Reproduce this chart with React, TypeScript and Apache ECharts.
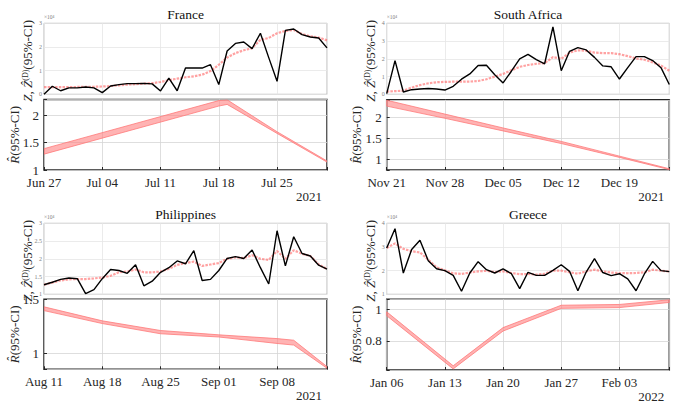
import React, { useEffect, useRef } from 'react';
import * as echarts from 'echarts';

// ---------------- data ----------------
const FRANCE_TICKS = ['Jun 27', 'Jul 04', 'Jul 11', 'Jul 18', 'Jul 25'];
const FRANCE_Z = [0.0, 0.34, 0.15, 0.27, 0.27, 0.31, 0.27, 0.07, 0.35, 0.41, 0.45, 0.45, 0.46, 0.44, 0.14, 0.68, 0.15, 1.11, 1.11, 1.11, 1.25, 0.41, 1.83, 2.15, 2.21, 1.93, 2.58, 1.55, 0.55, 2.70, 2.76, 2.52, 2.42, 2.38, 1.96];
const FRANCE_ZHAT = [0.30, 0.30, 0.30, 0.30, 0.31, 0.31, 0.32, 0.33, 0.35, 0.38, 0.41, 0.43, 0.45, 0.47, 0.52, 0.60, 0.66, 0.72, 0.76, 0.83, 0.98, 1.25, 1.55, 1.74, 1.86, 1.95, 2.30, 2.38, 2.58, 2.68, 2.72, 2.55, 2.45, 2.40, 2.28];
const FRANCE_R_DAYS = [0, 21, 22, 28, 34];
const FRANCE_R_LO = [1.29, 2.17, 2.20, 1.67, 1.145];
const FRANCE_R_HI = [1.39, 2.27, 2.285, 1.70, 1.165];

const SA_TICKS = ['Nov 21', 'Nov 28', 'Dec 05', 'Dec 12', 'Dec 19'];
const SA_Z = [0.04, 1.9, 0.13, 0.26, 0.30, 0.33, 0.30, 0.24, 0.45, 0.85, 1.15, 1.62, 1.64, 1.10, 0.64, 1.30, 2.0, 2.25, 1.95, 1.72, 3.8, 1.33, 2.42, 2.63, 2.5, 2.08, 1.6, 1.55, 0.86, 1.5, 2.12, 2.12, 1.9, 1.5, 0.55];
const SA_ZHAT = [0.15, 0.18, 0.2, 0.38, 0.52, 0.62, 0.68, 0.7, 0.71, 0.71, 0.72, 0.75, 0.85, 1.0, 1.15, 1.35, 1.55, 1.65, 1.72, 1.75, 2.1, 2.0, 2.35, 2.48, 2.45, 2.35, 2.32, 2.32, 2.26, 2.15, 2.02, 1.95, 1.8, 1.62, 1.33];
const SA_R_DAYS = [0, 7, 14, 21, 28, 34];
const SA_R_LO = [2.26, 1.97, 1.67, 1.37, 1.04, 0.75];
const SA_R_HI = [2.40, 2.07, 1.74, 1.42, 1.07, 0.77];

const PH_TICKS = ['Aug 11', 'Aug 18', 'Aug 25', 'Sep 01', 'Sep 08'];
const PH_Z = [1.27, 1.34, 1.42, 1.46, 1.44, 1.02, 1.13, 1.44, 1.70, 1.67, 1.59, 1.83, 1.24, 1.37, 1.62, 1.75, 1.94, 1.86, 2.23, 1.39, 1.42, 1.67, 2.01, 2.06, 2.01, 2.25, 1.75, 1.29, 2.79, 1.80, 2.62, 2.15, 2.08, 1.82, 1.71];
const PH_ZHAT = [1.27, 1.33, 1.39, 1.42, 1.43, 1.43, 1.45, 1.47, 1.52, 1.62, 1.64, 1.7, 1.62, 1.62, 1.64, 1.72, 1.83, 1.88, 1.92, 1.8, 1.84, 1.88, 2.0, 2.04, 2.02, 2.1, 2.0, 1.97, 2.22, 2.0, 2.24, 2.14, 2.08, 1.84, 1.71];
const PH_R_DAYS = [0, 7, 14, 21, 28, 30, 34];
const PH_R_LO = [1.395, 1.275, 1.18, 1.15, 1.09, 1.075, 0.86];
const PH_R_HI = [1.43, 1.30, 1.21, 1.17, 1.135, 1.12, 0.875];

const GR_TICKS = ['Jan 06', 'Jan 13', 'Jan 20', 'Jan 27', 'Feb 03'];
const GR_Z = [2.96, 3.77, 1.90, 2.89, 3.28, 2.42, 2.08, 2.0, 1.80, 1.13, 1.90, 2.38, 2.04, 1.90, 2.07, 1.87, 1.24, 1.93, 1.80, 1.80, 2.01, 2.25, 1.97, 1.15, 1.94, 2.51, 1.92, 1.79, 1.87, 1.65, 1.15, 1.86, 2.39, 2.0, 1.96];
const GR_ZHAT = [2.96, 3.15, 2.92, 2.82, 2.77, 2.46, 2.14, 2.01, 1.89, 1.86, 1.92, 1.97, 1.99, 1.94, 1.97, 1.90, 1.85, 1.86, 1.83, 1.86, 2.0, 2.0, 1.93, 1.87, 1.97, 2.04, 1.97, 1.92, 1.90, 1.89, 1.90, 1.93, 2.04, 2.0, 1.96];
const GR_R_DAYS = [0, 8, 14, 21, 28, 34];
const GR_R_LO = [0.96, 0.62, 0.862, 1.007, 1.012, 1.045];
const GR_R_HI = [0.985, 0.64, 0.884, 1.027, 1.032, 1.062];

const PANELS = [
  { title: 'France', year: '2021', ticks: FRANCE_TICKS, z: FRANCE_Z, zhat: FRANCE_ZHAT, rDays: FRANCE_R_DAYS, rLo: FRANCE_R_LO, rHi: FRANCE_R_HI, zRange: [0, 3], zStep: 1, rRange: [1, 2.29], rStep: 0.5 },
  { title: 'South Africa', year: '2021', ticks: SA_TICKS, z: SA_Z, zhat: SA_ZHAT, rDays: SA_R_DAYS, rLo: SA_R_LO, rHi: SA_R_HI, zRange: [0, 4], zStep: 1, rRange: [0.74, 2.41], rStep: 0.5 },
  { title: 'Philippines', year: '2021', ticks: PH_TICKS, z: PH_Z, zhat: PH_ZHAT, rDays: PH_R_DAYS, rLo: PH_R_LO, rHi: PH_R_HI, zRange: [1, 3], zStep: 0.5, rRange: [0.85, 1.5], rStep: 0.5 },
  { title: 'Greece', year: '2022', ticks: GR_TICKS, z: GR_Z, zhat: GR_ZHAT, rDays: GR_R_DAYS, rLo: GR_R_LO, rHi: GR_R_HI, zRange: [1, 4], zStep: 1, rRange: [0.613, 1.065], rStep: 0.2 },
];

// ---------------- layout ----------------
const LAYOUT = [
  { left: 44, width: 283, top: 23.3, topH: 71, bTop: 99.5, bH: 70.5 },
  { left: 386.7, width: 282.6, top: 23.3, topH: 71, bTop: 99.8, bH: 70.2 },
  { left: 44, width: 283, top: 223.3, topH: 71, bTop: 299.3, bH: 70 },
  { left: 386.7, width: 282.6, top: 223.3, topH: 71, bTop: 299.3, bH: 70.7 },
];

const FONT = 'Liberation Serif, DejaVu Serif, serif';
const DARK = '#262626';

function isMult(v: number, step: number) {
  const q = v / step;
  return Math.abs(q - Math.round(q)) < 1e-6;
}

function buildOption() {
  const grid: any[] = [];
  const xAxis: any[] = [];
  const yAxis: any[] = [];
  const series: any[] = [];
  const graphic: any[] = [];

  PANELS.forEach((p, k) => {
    const L = LAYOUT[k];
    const ti = 2 * k;
    const bi = 2 * k + 1;

    grid.push({ left: L.left, top: L.top, width: L.width, height: L.topH, show: true, borderColor: '#a6a6a6', borderWidth: 0.8, backgroundColor: 'transparent' });
    grid.push({ left: L.left, top: L.bTop, width: L.width, height: L.bH, show: true, borderColor: DARK, borderWidth: 1.5, backgroundColor: 'transparent' });

    xAxis.push({
      type: 'value', gridIndex: ti, min: 0, max: 34, interval: 7,
      axisLabel: { show: false }, axisTick: { show: false }, axisLine: { show: false },
      splitLine: { show: true, lineStyle: { color: '#e6e6e6', width: 0.8 } },
    });
    xAxis.push({
      type: 'value', gridIndex: bi, min: 0, max: 34, interval: 7,
      axisLine: { show: false },
      axisTick: { show: true, inside: true, length: 3, lineStyle: { color: DARK } },
      axisLabel: {
        fontSize: 13, color: DARK, fontFamily: FONT, margin: 6,
        formatter: (v: number) => (isMult(v, 7) ? p.ticks[Math.round(v / 7)] ?? '' : ''),
      },
      splitLine: { show: true, lineStyle: { color: '#d6d6d6', width: 0.8 } },
    });

    yAxis.push({
      type: 'value', gridIndex: ti, min: p.zRange[0], max: p.zRange[1], interval: p.zStep,
      axisLine: { show: false }, axisTick: { show: false },
      axisLabel: { fontSize: 6, color: '#808080', margin: 2, fontFamily: FONT },
      splitLine: { show: true, lineStyle: { color: '#e6e6e6', width: 0.8 } },
      name: '×10⁴', nameLocation: 'end', nameGap: 2,
      nameTextStyle: { fontSize: 5.5, color: '#808080', align: 'left', fontFamily: FONT },
    });
    yAxis.push({
      type: 'value', gridIndex: bi, min: p.rRange[0], max: p.rRange[1],
      minInterval: p.rStep, maxInterval: p.rStep, splitNumber: 3,
      axisLine: { show: false },
      axisTick: { show: true, inside: true, length: 3, lineStyle: { color: DARK } },
      axisLabel: {
        fontSize: 13, color: DARK, fontFamily: FONT, margin: 5,
        formatter: (v: number) => (isMult(v, p.rStep) ? String(+v.toFixed(3)) : ''),
      },
      splitLine: { show: true, lineStyle: { color: '#d6d6d6', width: 0.8 } },
    });

    // top: estimated Z-hat band (dashed red) + observed Z (black)
    series.push({
      type: 'line', xAxisIndex: ti, yAxisIndex: ti, symbol: 'none', z: 2,
      data: p.zhat.map((v, i) => [i, v]),
      lineStyle: { color: 'rgba(255,85,85,0.55)', width: 2.2, type: [2.5, 1.2] },
    });
    series.push({
      type: 'line', xAxisIndex: ti, yAxisIndex: ti, symbol: 'none', z: 3,
      data: p.z.map((v, i) => [i, v]),
      lineStyle: { color: '#000', width: 1.4 },
    });

    // bottom: R-hat 95% CI band, drawn as one polygon from lower/upper bounds
    const bandData = p.rDays.map((d, i) => [d, p.rLo[i], p.rHi[i]]);
    series.push({
      type: 'custom', xAxisIndex: bi, yAxisIndex: bi, z: 2, clip: true,
      data: bandData,
      encode: { x: 0, y: [1, 2] },
      renderItem: (params: any, api: any) => {
        if (params.dataIndex !== 0) return null;
        const upper = bandData.map((r) => api.coord([r[0], r[2]]));
        const lower = bandData.map((r) => api.coord([r[0], r[1]])).reverse();
        return {
          type: 'polygon',
          shape: { points: upper.concat(lower) },
          style: { fill: 'rgba(255,128,128,0.6)', stroke: '#ff7a7a', lineWidth: 0.8 },
        };
      },
    });

    // texts
    const cx = L.left + L.width / 2;
    graphic.push({
      type: 'text', x: cx, y: L.top - 9,
      style: { text: p.title, fontSize: 13.5, fontFamily: FONT, fill: '#111', align: 'center', verticalAlign: 'middle' },
    });
    graphic.push({
      type: 'text', x: L.left + L.width - 5, y: L.bTop + L.bH + 26,
      style: { text: p.year, fontSize: 13, fontFamily: FONT, fill: DARK, align: 'right', verticalAlign: 'middle' },
    });
    graphic.push({
      type: 'text', x: L.left - 16.5, y: L.top + L.topH / 2 + 2, rotation: Math.PI / 2,
      style: {
        text: '{i|Z}, {i|Ẑ}{s|(D)}(95%-CI)',
        fontSize: 13, fontFamily: FONT, fill: DARK, align: 'center', verticalAlign: 'middle',
        rich: {
          i: { fontStyle: 'italic', fontSize: 13, fontFamily: FONT, fill: DARK },
          s: { fontSize: 8, fontFamily: FONT, fill: DARK, verticalAlign: 'top', lineHeight: 9 },
        },
      },
    });
    graphic.push({
      type: 'text', x: L.left - 30, y: L.bTop + L.bH / 2, rotation: Math.PI / 2,
      style: {
        text: '{i|R̂}(95%-CI)',
        fontSize: 13, fontFamily: FONT, fill: DARK, align: 'center', verticalAlign: 'middle',
        rich: { i: { fontStyle: 'italic', fontSize: 13, fontFamily: FONT, fill: DARK } },
      },
    });
  });

  return {
    animation: false,
    backgroundColor: '#fff',
    grid, xAxis, yAxis, series, graphic,
  };
}

export default function App() {
  const ref = useRef<HTMLDivElement>(null);
  useEffect(() => {
    const chart = echarts.init(ref.current!, null, { renderer: 'svg' });
    chart.setOption(buildOption() as any);
    return () => chart.dispose();
  }, []);
  return (
    <div
      ref={ref}
      style={{ position: 'fixed', left: 0, top: 0, width: 678, height: 402, background: '#fff' }}
    />
  );
}
